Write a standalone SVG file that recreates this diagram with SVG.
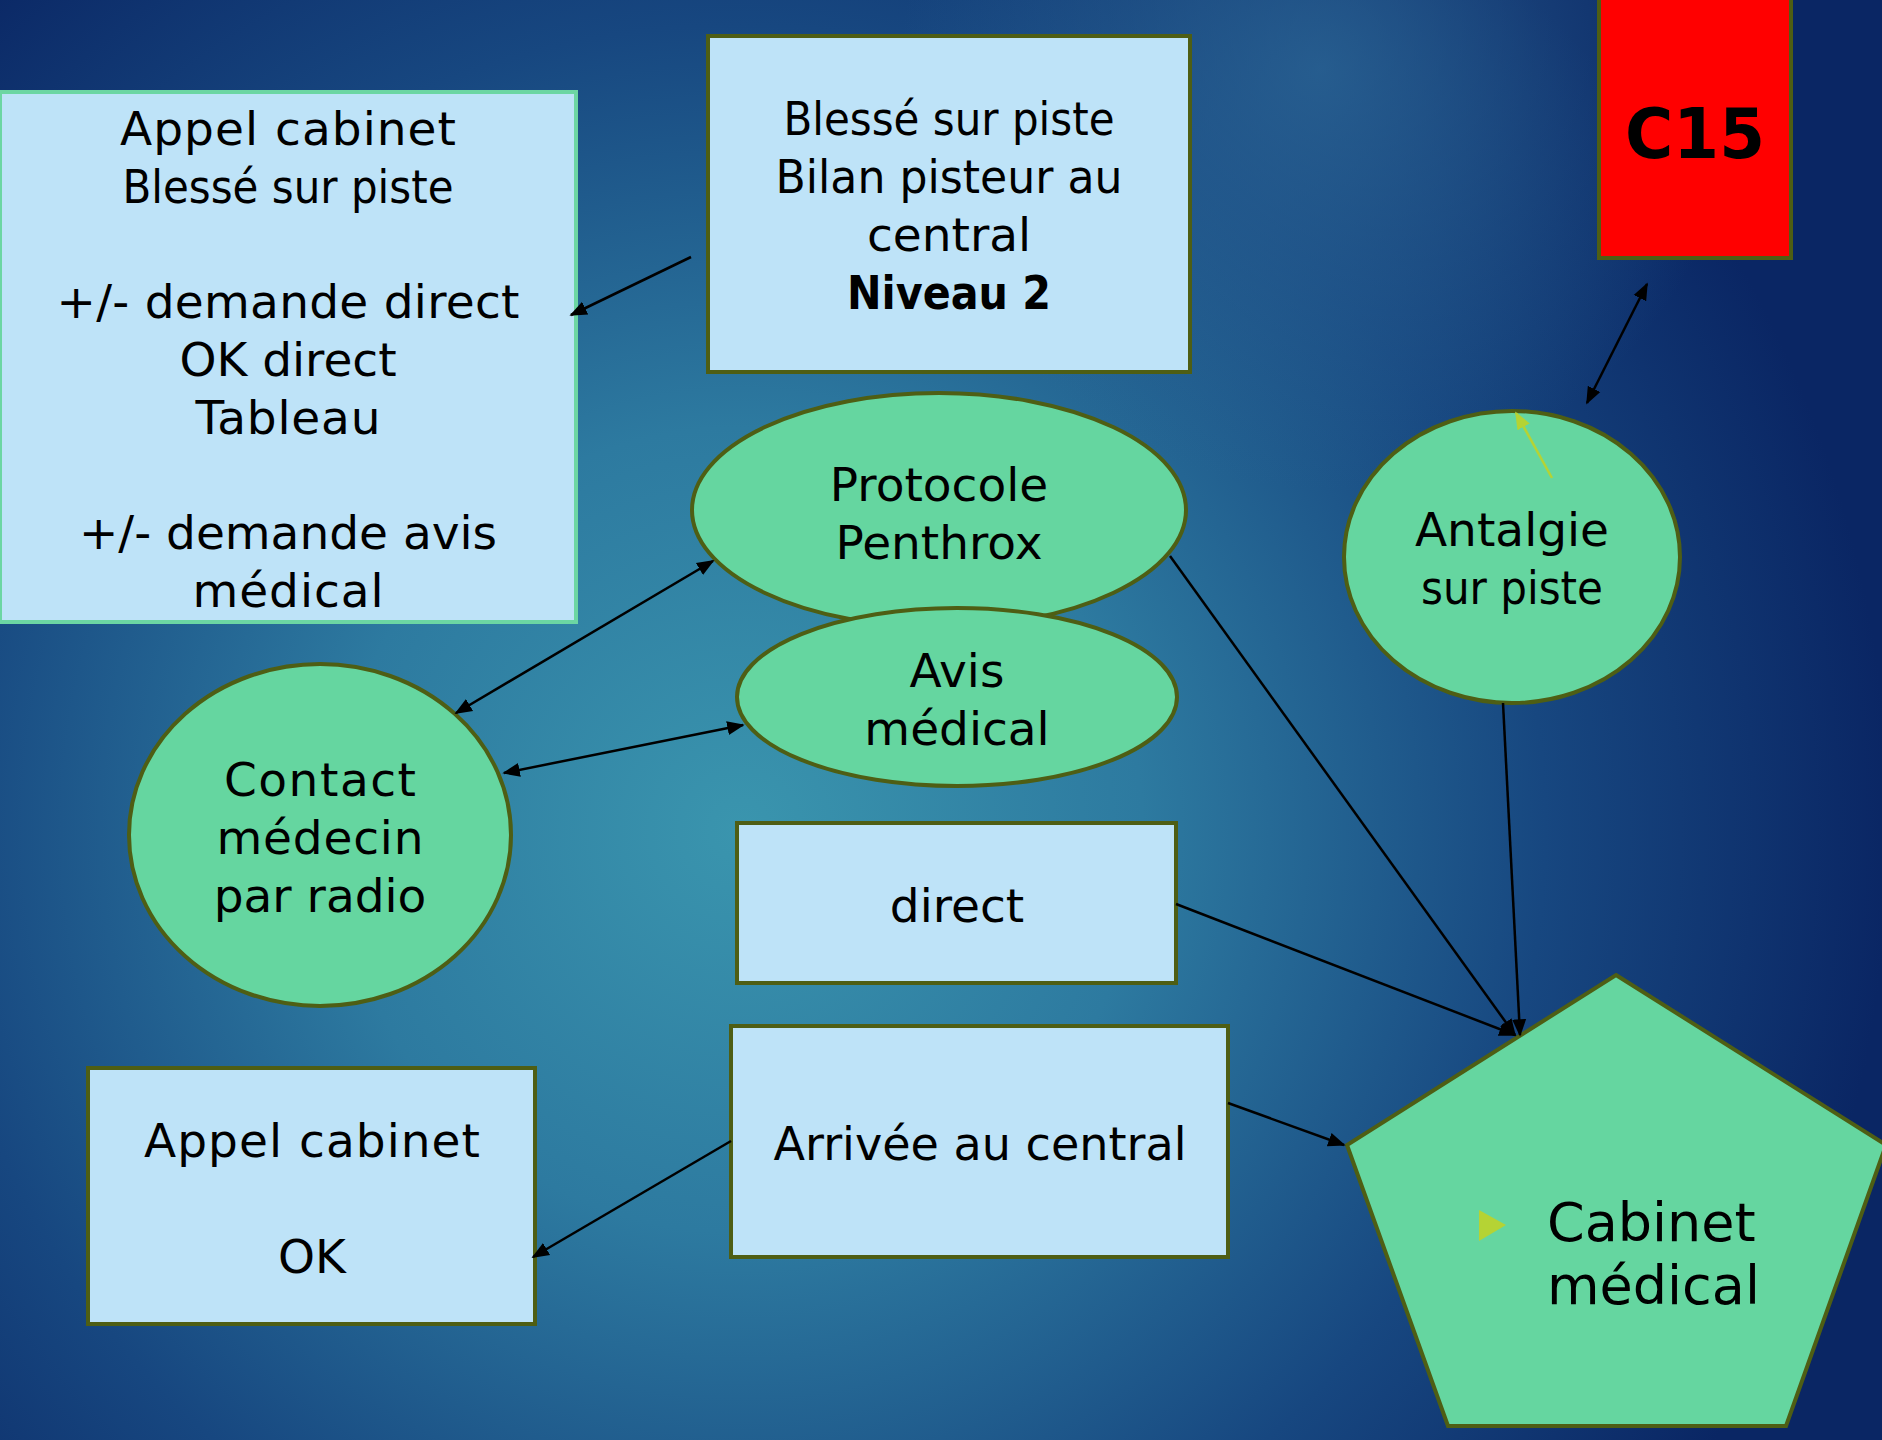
<svg xmlns="http://www.w3.org/2000/svg" width="1882" height="1440" viewBox="0 0 1882 1440">
<defs>
<radialGradient id="bg" cx="740" cy="830" r="1150" gradientUnits="userSpaceOnUse">
<stop offset="0" stop-color="#3a95ae"/>
<stop offset="0.35" stop-color="#2d7aa0"/>
<stop offset="0.7" stop-color="#174780"/>
<stop offset="1" stop-color="#0a2664"/>
</radialGradient>
<radialGradient id="bg2" cx="1320" cy="70" r="420" gradientUnits="userSpaceOnUse">
<stop offset="0" stop-color="#2f6c9a" stop-opacity="0.7"/>
<stop offset="1" stop-color="#2f6c9a" stop-opacity="0"/>
</radialGradient>
<marker id="ah" viewBox="0 0 10 10" refX="9" refY="5" markerWidth="7" markerHeight="7" orient="auto-start-reverse" markerUnits="strokeWidth">
<path d="M0,1 L10,5 L0,9 z" fill="#000"/>
</marker>
<marker id="ahy" viewBox="0 0 10 10" refX="9" refY="5" markerWidth="7" markerHeight="7" orient="auto" markerUnits="strokeWidth">
<path d="M0,1 L10,5 L0,9 z" fill="#b5d334"/>
</marker>
</defs>
<style>
.box{fill:#bee3f8;stroke:#4e5e14;stroke-width:4}
.green{fill:#65d6a0;stroke:#4e5e14;stroke-width:4}
.t{font-family:"DejaVu Sans",sans-serif;font-size:47px;fill:#000;text-anchor:middle}
.b{font-weight:bold}
.c{fill:none;stroke:#000;stroke-width:2.5}
</style>
<rect width="1882" height="1440" fill="url(#bg)"/>
<rect width="1882" height="1440" fill="url(#bg2)"/>

<g id="node-appel-cabinet-blesse">
<rect x="0" y="92" width="576" height="530" fill="#bee3f8" stroke="#6cd6a3" stroke-width="4"/>
<text class="t"><tspan x="288" y="145" textLength="336" lengthAdjust="spacing">Appel cabinet</tspan><tspan x="288" y="203" textLength="331" lengthAdjust="spacingAndGlyphs">Blessé sur piste</tspan><tspan x="288" y="318" textLength="463" lengthAdjust="spacing">+/- demande direct</tspan><tspan x="288" y="376">OK direct</tspan><tspan x="288" y="434" textLength="185" lengthAdjust="spacing">Tableau</tspan><tspan x="288" y="549">+/- demande avis</tspan><tspan x="288" y="607" textLength="191" lengthAdjust="spacing">médical</tspan></text>
</g>

<g id="node-bilan-pisteur">
<rect class="box" x="708" y="36" width="482" height="336"/>
<text class="t"><tspan x="949" y="135" textLength="331" lengthAdjust="spacingAndGlyphs">Blessé sur piste</tspan><tspan x="949" y="193" textLength="347" lengthAdjust="spacingAndGlyphs">Bilan pisteur au</tspan><tspan x="949" y="251">central</tspan><tspan x="949" y="309" class="b" textLength="204" lengthAdjust="spacingAndGlyphs">Niveau 2</tspan></text>
</g>

<g id="node-c15">
<rect x="1599" y="-4" width="192" height="262" fill="#ff0000" stroke="#4e5e14" stroke-width="4"/>
<text class="t b" x="1695" y="158" style="font-size:70px" textLength="140" lengthAdjust="spacingAndGlyphs">C15</text>
</g>

<g id="node-protocole">
<ellipse class="green" cx="939" cy="510" rx="247" ry="117"/>
<text class="t"><tspan x="939" y="501">Protocole</tspan><tspan x="939" y="559">Penthrox</tspan></text>
</g>

<g id="node-avis">
<ellipse class="green" cx="957" cy="697" rx="220" ry="89"/>
<text class="t"><tspan x="957" y="687">Avis</tspan><tspan x="957" y="745">médical</tspan></text>
</g>

<g id="node-contact">
<ellipse class="green" cx="320" cy="835" rx="191" ry="171"/>
<text class="t"><tspan x="320" y="796" textLength="192" lengthAdjust="spacing">Contact</tspan><tspan x="320" y="854" textLength="207" lengthAdjust="spacing">médecin</tspan><tspan x="320" y="912">par radio</tspan></text>
</g>

<g id="node-antalgie">
<ellipse class="green" cx="1512" cy="557" rx="168" ry="146"/>
<line x1="1552" y1="478" x2="1516" y2="413" stroke="#b5d334" stroke-width="2.5" marker-end="url(#ahy)"/>
<text class="t"><tspan x="1512" y="546">Antalgie</tspan><tspan x="1512" y="604" textLength="182" lengthAdjust="spacingAndGlyphs">sur piste</tspan></text>
</g>

<g id="node-direct">
<rect class="box" x="737" y="823" width="439" height="160"/>
<text class="t" x="957" y="922">direct</text>
</g>

<g id="node-arrivee">
<rect class="box" x="731" y="1026" width="497" height="231"/>
<text class="t" x="980" y="1160" textLength="413" lengthAdjust="spacingAndGlyphs">Arrivée au central</text>
</g>

<g id="node-appel-ok">
<rect class="box" x="88" y="1068" width="447" height="256"/>
<text class="t"><tspan x="312" y="1157" textLength="336" lengthAdjust="spacing">Appel cabinet</tspan><tspan x="312" y="1273">OK</tspan></text>
</g>

<g id="node-cabinet">
<polygon class="green" points="1616,975 1886,1145 1786,1426 1448,1426 1347,1145"/>
<polygon points="1479,1210 1506,1225 1479,1241" fill="#b5d334"/>
<text class="t" style="font-size:54px;text-anchor:start"><tspan x="1547" y="1241">Cabinet</tspan><tspan x="1547" y="1304">médical</tspan></text>
</g>

<g id="connectors">
<line class="c" x1="691" y1="257" x2="571" y2="315" marker-end="url(#ah)"/>
<line class="c" x1="713" y1="561" x2="456" y2="713" marker-start="url(#ah)" marker-end="url(#ah)"/>
<line class="c" x1="504" y1="773" x2="743" y2="725" marker-start="url(#ah)" marker-end="url(#ah)"/>
<line class="c" x1="1170" y1="556" x2="1515" y2="1035" marker-end="url(#ah)"/>
<line class="c" x1="1176" y1="904" x2="1515" y2="1035" marker-end="url(#ah)"/>
<line class="c" x1="1503" y1="703" x2="1520" y2="1035" marker-end="url(#ah)"/>
<line class="c" x1="1228" y1="1103" x2="1344" y2="1145" marker-end="url(#ah)"/>
<line class="c" x1="731" y1="1141" x2="533" y2="1257" marker-end="url(#ah)"/>
<line class="c" x1="1647" y1="284" x2="1587" y2="403" marker-start="url(#ah)" marker-end="url(#ah)"/>
</g>
</svg>
